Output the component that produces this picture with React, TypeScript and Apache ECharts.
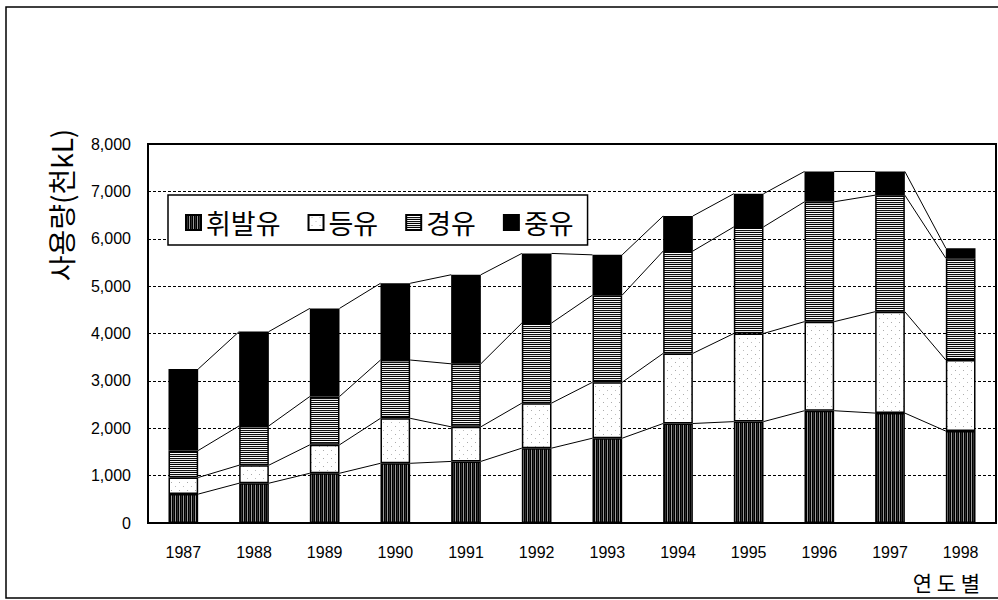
import React, { useEffect, useRef } from 'react';
import * as echarts from 'echarts';

const years = ['1987', '1988', '1989', '1990', '1991', '1992', '1993', '1994', '1995', '1996', '1997', '1998'];
const seriesNames = ['휘발유', '등유', '경유', '중유'];
const gasoline = [610, 840, 1050, 1260, 1300, 1580, 1790, 2100, 2140, 2370, 2320, 1940];
const kerosene = [350, 380, 600, 950, 730, 950, 1180, 1480, 1860, 1880, 2140, 1500];
const diesel = [570, 830, 1020, 1230, 1330, 1690, 1840, 2160, 2250, 2530, 2460, 2150];
const heavyOil = [1720, 1990, 1860, 1620, 1880, 1470, 850, 740, 700, 640, 500, 210];
const yAxisName = '사용량(천kL)';
const xAxisName = '연 도 별';

const CJK = '"Noto Sans CJK KR", "Noto Sans", sans-serif';
const NARROW = '"Liberation Sans Narrow", "Liberation Sans", Arial, sans-serif';

function makePattern(w: number, h: number, colors: string[]) {
  const c = document.createElement('canvas');
  c.width = w;
  c.height = h;
  const ctx = c.getContext('2d')!;
  ctx.fillStyle = '#fff';
  ctx.fillRect(0, 0, w, h);
  for (let y = 0; y < h; y++) {
    for (let x = 0; x < w; x++) {
      const col = colors[y * w + x];
      if (col) {
        ctx.fillStyle = col;
        ctx.fillRect(x, y, 1, 1);
      }
    }
  }
  return { image: c, repeat: 'repeat', imageWidth: w, imageHeight: h } as any;
}

export default function App() {
  const ref = useRef<HTMLDivElement>(null);
  useEffect(() => {
    if (!ref.current) return;
    const chart = echarts.init(ref.current, null, { renderer: 'svg' });

    const gasPat = makePattern(4, 1, ['#000', '#333', '#000', '#999']);
    const kerPat = makePattern(8, 8, [
      '', '', '', '', '', '', '', '',
      '', '', '', '', '', '', '', '',
      '', '', '', '#aaa', '', '', '', '',
      '', '', '', '', '', '', '', '',
      '', '', '', '', '', '', '', '',
      '', '', '', '', '', '', '', '',
      '', '', '', '', '', '', '', '#bbb',
      '', '', '', '', '', '', '', '',
    ]);
    const dieselPat = makePattern(1, 4, ['#000', '#fff', '#111', '#ddd']);

    const raw = [gasoline, kerosene, diesel, heavyOil];
    const cum: number[][] = [];
    raw.forEach((arr, k) => {
      cum.push(arr.map((v, i) => v + (k > 0 ? cum[k - 1][i] : 0)));
    });
    const lineData = years.slice(0, -1).map((_, i) => {
      const row: number[] = [i];
      cum.forEach((l) => { row.push(l[i], l[i + 1]); });
      return row;
    });

    const fills = [gasPat, kerPat, dieselPat, '#000'];
    const barSeries = seriesNames.map((name, k) => ({
      name,
      type: 'bar',
      stack: 'total',
      barWidth: '42%',
      data: raw[k],
      itemStyle: { color: fills[k], borderColor: '#000', borderWidth: 1.5 },
      emphasis: { disabled: true },
    }));

    chart.setOption({
      animation: false,
      grid: { left: 148, top: 144, right: 2, bottom: 77, show: true, borderColor: '#000', borderWidth: 2 },
      legend: {
        data: seriesNames,
        left: 168,
        top: 195,
        icon: 'rect',
        itemWidth: 15,
        itemHeight: 15,
        itemGap: 27,
        padding: [14, 14, 9, 17],
        borderColor: '#000',
        borderWidth: 1.5,
        backgroundColor: '#fff',
        textStyle: { fontSize: 27, lineHeight: 27, fontFamily: CJK, color: '#000' },
        selectedMode: false,
      },
      xAxis: {
        type: 'category',
        data: years,
        axisLine: { lineStyle: { color: '#000', width: 2 } },
        axisTick: { inside: true, length: 4, lineStyle: { color: '#000' } },
        axisLabel: { margin: 21, fontSize: 16, fontFamily: NARROW, color: '#000' },
      },
      yAxis: {
        type: 'value',
        min: 0,
        max: 8000,
        interval: 1000,
        axisLine: { show: true, lineStyle: { color: '#000', width: 2 } },
        axisTick: { show: false },
        axisLabel: {
          margin: 17,
          fontSize: 16,
          fontFamily: NARROW,
          color: '#000',
          formatter: (v: number) => v.toLocaleString('en-US'),
        },
        splitLine: { lineStyle: { color: '#000', type: [3, 2], width: 1.2 } },
      },
      series: [
        ...barSeries,
        {
          type: 'custom',
          silent: true,
          z: 3,
          data: lineData,
          encode: { x: 0, y: [1, 2, 3, 4, 5, 6, 7, 8] },
          renderItem: (params: any, api: any) => {
            const i = api.value(0);
            const band = api.size([1, 0])[0];
            const hw = band * 0.21;
            const children: any[] = [];
            for (let k = 0; k < 4; k++) {
              const a = api.coord([i, api.value(1 + 2 * k)]);
              const b = api.coord([i + 1, api.value(2 + 2 * k)]);
              children.push({
                type: 'line',
                shape: { x1: a[0] + hw, y1: a[1], x2: b[0] - hw, y2: b[1] },
                style: { stroke: '#000', lineWidth: 1 },
              });
            }
            return { type: 'group', children };
          },
        },
      ],
      graphic: [
        {
          type: 'rect',
          shape: { x: 6, y: 7, width: 1000, height: 591 },
          style: { fill: 'none', stroke: '#000', lineWidth: 1.5 },
          silent: true,
        },
        {
          type: 'text',
          x: 61,
          y: 205,
          rotation: Math.PI / 2,
          style: {
            text: yAxisName,
            font: `28px ${CJK}`,
            fill: '#000',
            textAlign: 'center',
            textVerticalAlign: 'middle',
          },
        },
        {
          type: 'text',
          x: 980,
          y: 582,
          style: {
            text: xAxisName,
            font: `21px ${CJK}`,
            fill: '#000',
            textAlign: 'right',
            textVerticalAlign: 'middle',
          },
        },
      ],
    });
    return () => chart.dispose();
  }, []);
  return <div ref={ref} style={{ position: 'fixed', left: 0, top: 0, width: 998, height: 600, background: '#fff' }} />;
}
